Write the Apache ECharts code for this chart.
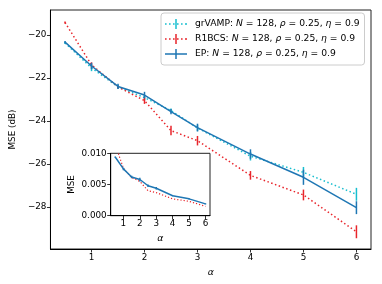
<!DOCTYPE html>
<html><head><meta charset="utf-8">
<script src="https://cdn.jsdelivr.net/npm/echarts@6/dist/echarts.min.js"></script>
<style>html,body{margin:0;padding:0;background:#fff}#c{width:382px;height:284px}</style>
</head><body><div id="c"></div>
<script>
const alphas = [0.5, 1, 1.5, 2, 2.5, 3, 4, 5, 6];
const grvampDb = [-20.38, -21.54, -22.42, -22.92, -23.52, -24.33, -25.64, -26.39, -27.41];
const grvampErr = [0.05, 0.15, 0.1, 0.12, 0.1, 0.15, 0.2, 0.25, 0.3];
const r1bcsDb = [-19.43, -21.40, -22.42, -23.06, -24.45, -24.92, -26.53, -27.44, -29.15];
const r1bcsErr = [0.05, 0.12, 0.06, 0.15, 0.22, 0.22, 0.2, 0.25, 0.3];
const epDb = [-20.34, -21.45, -22.40, -22.80, -23.57, -24.31, -25.54, -26.62, -28.03];
const epErr = [0.05, 0.15, 0.12, 0.15, 0.12, 0.18, 0.22, 0.35, 0.3];
const insetEp = [0.0094, 0.0075, 0.0062, 0.0058, 0.0048, 0.0044, 0.0032, 0.0027, 0.0019];
const insetEpErr = [0.0001, 0.0002, 0.0002, 0.0003, 0.0002, 0.0002, 0.0001, 0.0001, 0.0001];
const insetR1 = [0.0114, 0.0076, 0.0061, 0.0055, 0.0040, 0.0037, 0.0027, 0.0023, 0.0015];
const xTicks = [1, 2, 3, 4, 5, 6];
const yTicks = [-28, -26, -24, -22, -20];
const insetYTicks = [0, 0.005, 0.01];
const seriesNames = ['grVAMP', 'R1BCS', 'EP'];

const FONT = 'DejaVu Sans';
const FS = 8.8;
const LFS = 9.2;
const C_CYAN = '#17becf', C_RED = '#e8252b', C_BLUE = '#1f77b4';

const pairs = (xs, ys) => xs.map((x, i) => [x, ys[i]]);
const triples = (xs, ys, es) => xs.map((x, i) => [x, ys[i], es[i]]);
const minus = v => (v < 0 ? '\u2212' + Math.abs(v) : String(v));

function errSeries(name, data, color, xi, yi, z) {
  return {
    type: 'custom', name: name + '_err', xAxisIndex: xi, yAxisIndex: yi, z: z,
    data: data, encode: {x: 0, y: 1}, silent: true, clip: true,
    renderItem: function (params, api) {
      const x = api.value(0), y = api.value(1), e = api.value(2);
      const p1 = api.coord([x, y - e]), p2 = api.coord([x, y + e]);
      return {type: 'line', shape: {x1: p1[0], y1: p1[1], x2: p2[0], y2: p2[1]},
        style: {stroke: color, lineWidth: 1.5}};
    }
  };
}
function iconPath(dotted) {
  let p = '';
  if (dotted) {
    for (let x = 0; x < 22; x += 4) p += 'M' + x + ' 4.2L' + (x + 1.6) + ' 4.2L' + (x + 1.6) + ' 5.8L' + x + ' 5.8Z';
    p += 'M20.4 4.2L22 4.2L22 5.8L20.4 5.8Z';
  } else {
    p += 'M0 4.25L22 4.25L22 5.75L0 5.75Z';
  }
  p += 'M10.25 0L11.75 0L11.75 10L10.25 10Z';
  return 'path://' + p;
}
const axisCommon = {
  axisLine: {show: true, onZero: false, lineStyle: {color: '#000', width: 1}},
  axisTick: {show: true, length: 3.5, lineStyle: {color: '#000', width: 0.8}},
  axisLabel: {color: '#000', fontFamily: FONT, fontSize: FS, margin: 4},
  splitLine: {show: false}
};
const chart = echarts.init(document.getElementById('c'), null, {renderer: 'canvas'});
const option = {
  animation: false,
  backgroundColor: '#fff',
  grid: [
    {left: 50, top: 10, right: 11, bottom: 35, show: true, borderColor: '#222', borderWidth: 1, backgroundColor: 'transparent', containLabel: false},
    {left: 110.7, top: 153.3, width: 99.3, height: 62.4, show: true, borderColor: '#222', borderWidth: 1, backgroundColor: '#fff', z: 10, containLabel: false}
  ],
  xAxis: [
    Object.assign({}, axisCommon, {type: 'value', gridIndex: 0, min: 0.225, max: 6.275,
      name: 'α', nameLocation: 'middle', nameGap: 19,
      nameTextStyle: {fontFamily: FONT, fontSize: FS + 0.5, fontStyle: 'italic', color: '#000'},
      axisTick: Object.assign({}, axisCommon.axisTick, {customValues: xTicks}),
      axisLabel: Object.assign({}, axisCommon.axisLabel, {customValues: xTicks, formatter: v => minus(v)})}),
    Object.assign({}, axisCommon, {type: 'value', gridIndex: 1, min: 0.225, max: 6.275, z: 11,
      name: 'α', nameLocation: 'middle', nameGap: 18,
      nameTextStyle: {fontFamily: FONT, fontSize: FS + 0.5, fontStyle: 'italic', color: '#000'},
      axisTick: Object.assign({}, axisCommon.axisTick, {customValues: xTicks}),
      axisLabel: Object.assign({}, axisCommon.axisLabel, {customValues: xTicks, formatter: v => String(v)})})
  ],
  yAxis: [
    Object.assign({}, axisCommon, {type: 'value', gridIndex: 0, min: -29.95, max: -18.85,
      name: 'MSE (dB)', nameLocation: 'middle', nameGap: 32, nameRotate: 90,
      nameTextStyle: {fontFamily: FONT, fontSize: FS, color: '#000'},
      axisTick: Object.assign({}, axisCommon.axisTick, {customValues: yTicks}),
      axisLabel: Object.assign({}, axisCommon.axisLabel, {customValues: yTicks, formatter: v => minus(v)})}),
    Object.assign({}, axisCommon, {type: 'value', gridIndex: 1, min: 0, max: 0.01, z: 11,
      name: 'MSE', nameLocation: 'middle', nameGap: 34, nameRotate: 90,
      nameTextStyle: {fontFamily: FONT, fontSize: FS, color: '#000'},
      axisTick: Object.assign({}, axisCommon.axisTick, {customValues: insetYTicks}),
      axisLabel: Object.assign({}, axisCommon.axisLabel, {customValues: insetYTicks, formatter: v => v.toFixed(3)})})
  ],
  legend: {
    data: seriesNames.map((n, i) => ({name: n, icon: iconPath(i < 2)})),
    orient: 'vertical', left: 161, top: 13, itemWidth: 22, itemHeight: 10, itemGap: 5,
    padding: [6, 5, 6, 4], backgroundColor: 'rgba(255,255,255,0.8)', borderColor: '#cccccc', borderWidth: 1, borderRadius: 3,
    textStyle: {fontFamily: FONT, fontSize: LFS, color: '#000', padding: [0, 0, 0, 3],
      rich: {i: {fontFamily: FONT, fontSize: LFS, fontStyle: 'italic', color: '#000'}}},
    formatter: n => n + ': {i|N} = 128, {i|ρ} = 0.25, {i|η} = 0.9',
    selectedMode: false, z: 20
  },
  series: [
    {type: 'line', name: 'grVAMP', xAxisIndex: 0, yAxisIndex: 0, data: pairs(alphas, grvampDb), symbol: 'none', color: C_CYAN,
      lineStyle: {color: C_CYAN, width: 1.5, type: [1.5, 2.5]}, z: 3},
    errSeries('grVAMP', triples(alphas, grvampDb, grvampErr), C_CYAN, 0, 0, 3),
    {type: 'line', name: 'R1BCS', xAxisIndex: 0, yAxisIndex: 0, data: pairs(alphas, r1bcsDb), symbol: 'none', color: C_RED,
      lineStyle: {color: C_RED, width: 1.5, type: [1.5, 2.5]}, z: 4},
    errSeries('R1BCS', triples(alphas, r1bcsDb, r1bcsErr), C_RED, 0, 0, 4),
    {type: 'line', name: 'EP', xAxisIndex: 0, yAxisIndex: 0, data: pairs(alphas, epDb), symbol: 'none', color: C_BLUE,
      lineStyle: {color: C_BLUE, width: 1.5}, z: 5},
    errSeries('EP', triples(alphas, epDb, epErr), C_BLUE, 0, 0, 5),
    {type: 'line', name: 'R1BCS_inset', xAxisIndex: 1, yAxisIndex: 1, data: pairs(alphas, insetR1), symbol: 'none', color: C_RED,
      lineStyle: {color: C_RED, width: 1.2, type: [1.2, 2]}, z: 12, clip: true},
    {type: 'line', name: 'EP_inset', xAxisIndex: 1, yAxisIndex: 1, data: pairs(alphas, insetEp), symbol: 'none', color: C_BLUE,
      lineStyle: {color: C_BLUE, width: 1.5}, z: 13, clip: true},
    errSeries('EP_inset', triples(alphas, insetEp, insetEpErr), C_BLUE, 1, 1, 13)
  ]
};
chart.setOption(option);
</script>
</body></html>
